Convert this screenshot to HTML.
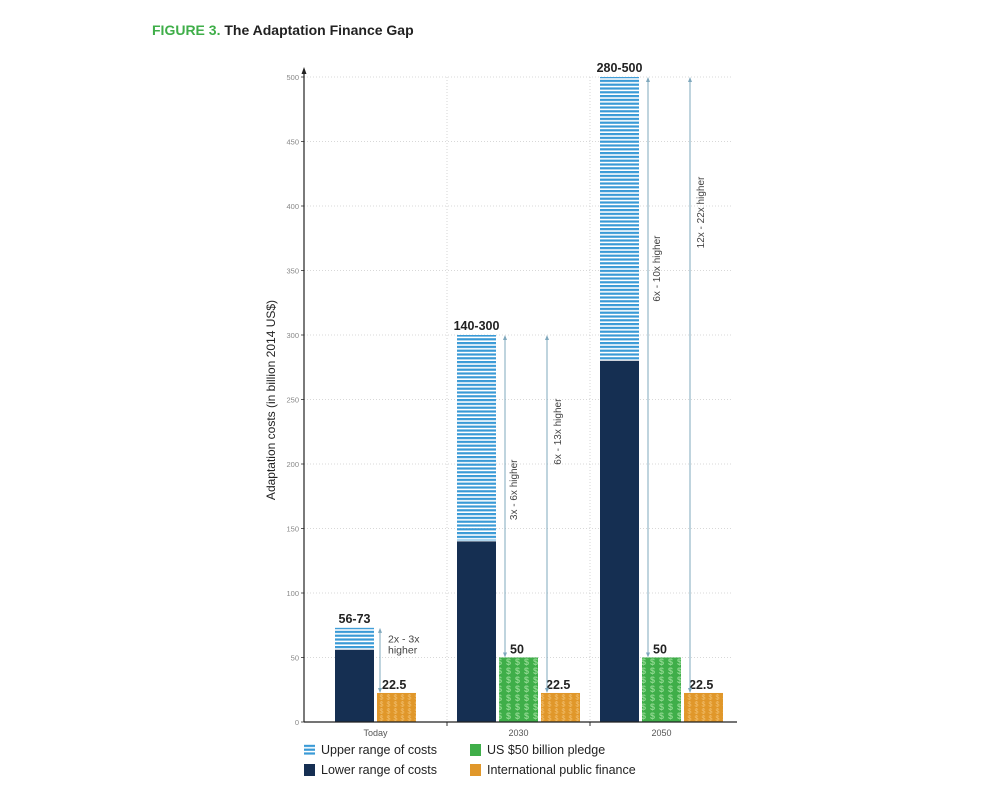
<!DOCTYPE html>
<html><head><meta charset="utf-8">
<style>
body{margin:0;background:#fff;width:982px;height:787px;overflow:hidden;font-family:"Liberation Sans",sans-serif}
svg{position:absolute;left:0;top:0}
</style></head>
<body>
<svg id="chart" width="982" height="787">
<defs>
<pattern id="stripes" width="10" height="3.8" patternUnits="userSpaceOnUse"><rect width="10" height="2.2" fill="#3a9ad6"/></pattern>
<pattern id="dollarG" width="9" height="9" patternUnits="userSpaceOnUse"><rect width="9" height="9" fill="#3fae49"/><text x="4.5" y="8" font-size="9" font-weight="bold" fill="#8fd88f" text-anchor="middle" font-family="Liberation Sans">$</text></pattern>
<pattern id="dollarO" width="7" height="7" patternUnits="userSpaceOnUse"><rect width="7" height="7" fill="#e0972a"/><text x="3.5" y="6.3" font-size="7" fill="#f2c070" text-anchor="middle" font-family="Liberation Sans">$</text></pattern>
</defs>
<text x="152" y="35" font-size="14" font-weight="bold"><tspan fill="#3fae49">FIGURE 3.</tspan><tspan fill="#222"> The Adaptation Finance Gap</tspan></text>
<text transform="translate(275,400) rotate(-90)" font-size="12" fill="#222" text-anchor="middle">Adaptation costs (in billion 2014 US$)</text>
<g id="grid"></g><g id="bars"></g><g id="axes"></g>
</svg>
<script>
const categories=["Today","2030","2050"];
const lowerCosts=[56,140,280];
const upperCosts=[73,300,500];
const rangeLabels=["56-73","140-300","280-500"];
const pledge=[null,50,50];
const publicFinance=[22.5,22.5,22.5];
const gapPledge=[null,"3x - 6x higher","6x - 10x higher"];
const gapPublic=["2x - 3x higher","6x - 13x higher","12x - 22x higher"];
const yTicks=[0,50,100,150,200,250,300,350,400,450,500];
const NS="http://www.w3.org/2000/svg";
const X0=304,Y0=722,YS=645/500,GW=143;
const pledgeFrac=[0,0.52,0.67], publicFrac=[0,0.73,0.78];
const y=v=>Y0-v*YS;
function el(p,tag,a,txt){const e=document.createElementNS(NS,tag);for(const k in a)e.setAttribute(k,a[k]);if(txt!=null)e.textContent=txt;document.getElementById(p).appendChild(e);return e;}
yTicks.forEach(t=>{
 const g=el('grid','line',{x1:X0,x2:733,y1:y(t),y2:y(t),stroke:'#ccc','stroke-dasharray':'1,2','stroke-width':0.8});
 
 
 const l=el('axes','text',{x:X0-5,y:y(t)+3,'font-size':7.5,fill:'#888','text-anchor':'end'},t);
 
 
 el('axes','line',{x1:X0-3,x2:X0,y1:y(t),y2:y(t),stroke:'#333','stroke-width':0.8});
});
[1,2].forEach(i=>{el('grid','line',{x1:X0+GW*i,x2:X0+GW*i,y1:y(500),y2:Y0,stroke:'#ccc','stroke-dasharray':'1,2','stroke-width':0.8});
 el('axes','line',{x1:X0+GW*i,x2:X0+GW*i,y1:Y0,y2:Y0+4,stroke:'#333'});});
el('axes','line',{x1:X0,x2:X0,y1:Y0,y2:70,stroke:'#222','stroke-width':1.2});
el('axes','path',{d:`M${X0-2.5},74 L${X0},67 L${X0+2.5},74Z`,fill:'#222'});
el('axes','line',{x1:X0,x2:737,y1:Y0,y2:Y0,stroke:'#222','stroke-width':1.2});
function arrow(x,v0,v1){
 el('bars','line',{x1:x,x2:x,y1:y(v0)-2,y2:y(v1)+2,stroke:'#7fa8bd','stroke-width':1});
 el('bars','path',{d:`M${x-2},${y(v1)+5} L${x},${y(v1)} L${x+2},${y(v1)+5}Z`,fill:'#7fa8bd'});
 el('bars','path',{d:`M${x-2},${y(v0)-5} L${x},${y(v0)} L${x+2},${y(v0)-5}Z`,fill:'#7fa8bd'});
}
categories.forEach((c,i)=>{
 const gx=X0+GW*i, bw=39;
 const nx= i==0? gx+31 : gx+10;
 const up=el('bars','rect',{x:nx,y:y(upperCosts[i]),width:bw,height:y(lowerCosts[i])-y(upperCosts[i])-1,fill:'url(#stripes)'});
 
 
 const lo=el('bars','rect',{x:nx,y:y(lowerCosts[i]),width:bw,height:Y0-y(lowerCosts[i]),fill:'#152f52'});
 
 
 const rl=el('bars','text',{x:nx+bw/2,y:y(upperCosts[i])-5,'font-size':12.5,'font-weight':'bold',fill:'#222','text-anchor':'middle'},rangeLabels[i]);
 
 
 let ox=nx+bw+3;
 if(pledge[i]!=null){
  const gx2=nx+bw+3;
  const g=el('bars','rect',{x:gx2,y:y(pledge[i]),width:bw,height:Y0-y(pledge[i]),fill:'url(#dollarG)'});
  
  
  el('bars','text',{x:gx2+11,y:y(pledge[i])-4,'font-size':12.5,'font-weight':'bold',fill:'#222'},pledge[i]);
  arrow(gx2+6,pledge[i],upperCosts[i]);
  const cv=pledge[i]+(upperCosts[i]-pledge[i])*pledgeFrac[i];
  const t=el('bars','text',{transform:`translate(${gx2+18},${y(cv)}) rotate(-90)`,'font-size':10,fill:'#444','text-anchor':'middle'},gapPledge[i]);
  
  
  ox=gx2+bw+3;
 }
 const o=el('bars','rect',{x:ox,y:y(publicFinance[i]),width:bw,height:Y0-y(publicFinance[i]),fill:'url(#dollarO)'});
 
 
 el('bars','text',{x:ox+5,y:y(publicFinance[i])-4,'font-size':12.5,'font-weight':'bold',fill:'#222'},publicFinance[i]);
 const ax= i==0? nx+bw+6 : ox+6;
 arrow(ax,publicFinance[i],upperCosts[i]);
 if(i==0){
  const a=el('bars','text',{x:ax+8,y:y(63)+2,'font-size':10.5,fill:'#444'},"2x - 3x");
  
  
  el('bars','text',{x:ax+8,y:y(63)+13,'font-size':10.5,fill:'#444'},"higher");
 } else {
  const cv=publicFinance[i]+(upperCosts[i]-publicFinance[i])*publicFrac[i];
  const t=el('bars','text',{transform:`translate(${ax+14},${y(cv)}) rotate(-90)`,'font-size':10,fill:'#444','text-anchor':'middle'},gapPublic[i]);
  
  
 }
 const cl=el('axes','text',{x:gx+GW/2,y:Y0+14,'font-size':9,fill:'#555','text-anchor':'middle'},c);
 
 
});
const lg=[["url(#stripes)","Upper range of costs",304,750],["#152f52","Lower range of costs",304,770],["#3fae49","US $50 billion pledge",470,750],["#e0972a","International public finance",470,770]];
lg.forEach(l=>{
 const r=el('axes','rect',{x:l[2],y:l[3]-6,width:11,height:12,fill:l[0]});
 
 
 const t=el('axes','text',{x:l[2]+17,y:l[3]+4,'font-size':12.5,fill:'#222'},l[1]);
 
 
});
</script>
</body></html>
